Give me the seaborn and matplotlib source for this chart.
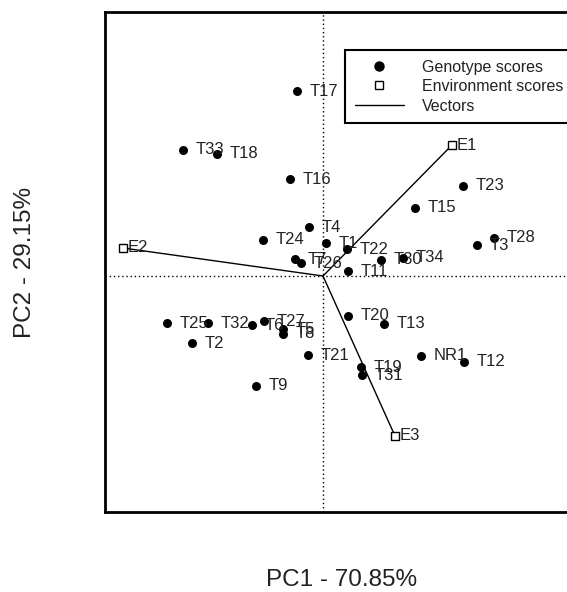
import matplotlib
matplotlib.use("Agg")
import matplotlib.pyplot as plt
import seaborn as sns
import pandas as pd
from matplotlib.lines import Line2D

# Genotype scores (PC1, PC2)
genotypes = ["T17", "T33", "T18", "T16", "T23", "T15", "T4", "T24", "T1", "T22",
             "T7", "T26", "T11", "T30", "T34", "T3", "T28", "T25", "T32", "T6",
             "T27", "T5", "T8", "T2", "T9", "T21", "T20", "T13", "T19", "T31",
             "NR1", "T12"]
g_pc1 = [-0.65, -3.5, -2.65, -0.825, 3.5, 2.3, -0.35, -1.5, 0.075, 0.6,
         -0.7, -0.55, 0.625, 1.45, 2.0, 3.85, 4.275, -3.9, -2.875, -1.775,
         -1.475, -1.0, -1.0, -3.275, -1.675, -0.375, 0.625, 1.525, 0.95, 0.975,
         2.45, 3.525]
g_pc2 = [4.625, 3.15, 3.05, 2.425, 2.25, 1.7, 1.225, 0.9, 0.825, 0.675,
         0.425, 0.325, 0.125, 0.4, 0.45, 0.775, 0.95, -1.175, -1.175, -1.225,
         -1.125, -1.325, -1.45, -1.675, -2.75, -1.975, -1.0, -1.2, -2.275, -2.475,
         -2.0, -2.15]

# Environment scores
environments = ["E1", "E2", "E3"]
e_pc1 = [3.225, -5.0, 1.8]
e_pc2 = [3.275, 0.7, -4.0]

xlabel = "PC1 - 70.85%"
ylabel = "PC2 - 29.15%"

sns.set_style("white")
plt.rcParams["font.family"] = ["Liberation Sans", "DejaVu Sans"]

fig = plt.figure(figsize=(5.67, 5.92), dpi=100)
W, H = 567, 592
ax = fig.add_axes([105 / W, 80 / H, 475 / W, 500 / H])

gdf = pd.DataFrame({"PC1": g_pc1, "PC2": g_pc2, "name": genotypes})
edf = pd.DataFrame({"PC1": e_pc1, "PC2": e_pc2, "name": environments})

ax.axvline(0, ls=(0, (1, 2)), color="black", lw=1, zorder=1)
ax.axhline(0, ls=(0, (1, 2)), color="black", lw=1, zorder=1)

for x, y in zip(e_pc1, e_pc2):
    ax.plot([0, x], [0, y], color="black", lw=1, zorder=2)

sns.scatterplot(data=gdf, x="PC1", y="PC2", ax=ax, color="black", s=42,
                linewidth=0, marker="o", zorder=3, legend=False)
sns.scatterplot(data=edf, x="PC1", y="PC2", ax=ax, facecolor="white",
                edgecolor="black", s=28, linewidth=1, marker="s", zorder=3,
                legend=False)

for n, x, y in zip(genotypes, g_pc1, g_pc2):
    ax.annotate(n, (x, y), xytext=(9, 0), textcoords="offset points",
                ha="left", va="center", fontsize=12, color="#222222", zorder=4)
for n, x, y in zip(environments, e_pc1, e_pc2):
    ax.annotate(n, (x, y), xytext=(3, 0), textcoords="offset points",
                ha="left", va="center", fontsize=12, color="#222222", zorder=4)

ax.set_xlim(-5.45, 6.425)
ax.set_ylim(-5.9, 6.6)
ax.set_xticks([])
ax.set_yticks([])
ax.set_xlabel("")
ax.set_ylabel("")
for sp in ax.spines.values():
    sp.set_visible(True)
    sp.set_color("black")
    sp.set_linewidth(2)

handles = [
    Line2D([], [], ls="none", marker="o", color="black", markersize=6.5),
    Line2D([], [], ls="none", marker="s", markerfacecolor="white",
           markeredgecolor="black", markersize=5.5, markeredgewidth=1),
    Line2D([], [], color="black", lw=1),
]
labels = ["Genotype scores", "Environment scores", "Vectors"]
leg = ax.legend(handles, labels, loc="upper left",
                bbox_to_anchor=(345 / W, 0, 240 / W, 1 - 50 / H),
                bbox_transform=fig.transFigure, mode="expand",
                fontsize=11.5, frameon=True, fancybox=False, edgecolor="black",
                framealpha=1, borderpad=0.6, labelspacing=0.28,
                handlelength=3.1, handletextpad=1.1, borderaxespad=0)
leg.get_frame().set_linewidth(1.5)
for t in leg.get_texts():
    t.set_color("#222222")

fig.text(342 / W, 1 - 580 / H, xlabel, ha="center", va="center",
         fontsize=17.5, color="#222222")
fig.text(25 / W, 1 - 262 / H, ylabel, ha="center", va="center",
         rotation=90, fontsize=17.5, color="#222222")

fig.savefig("out.png", dpi=100)
